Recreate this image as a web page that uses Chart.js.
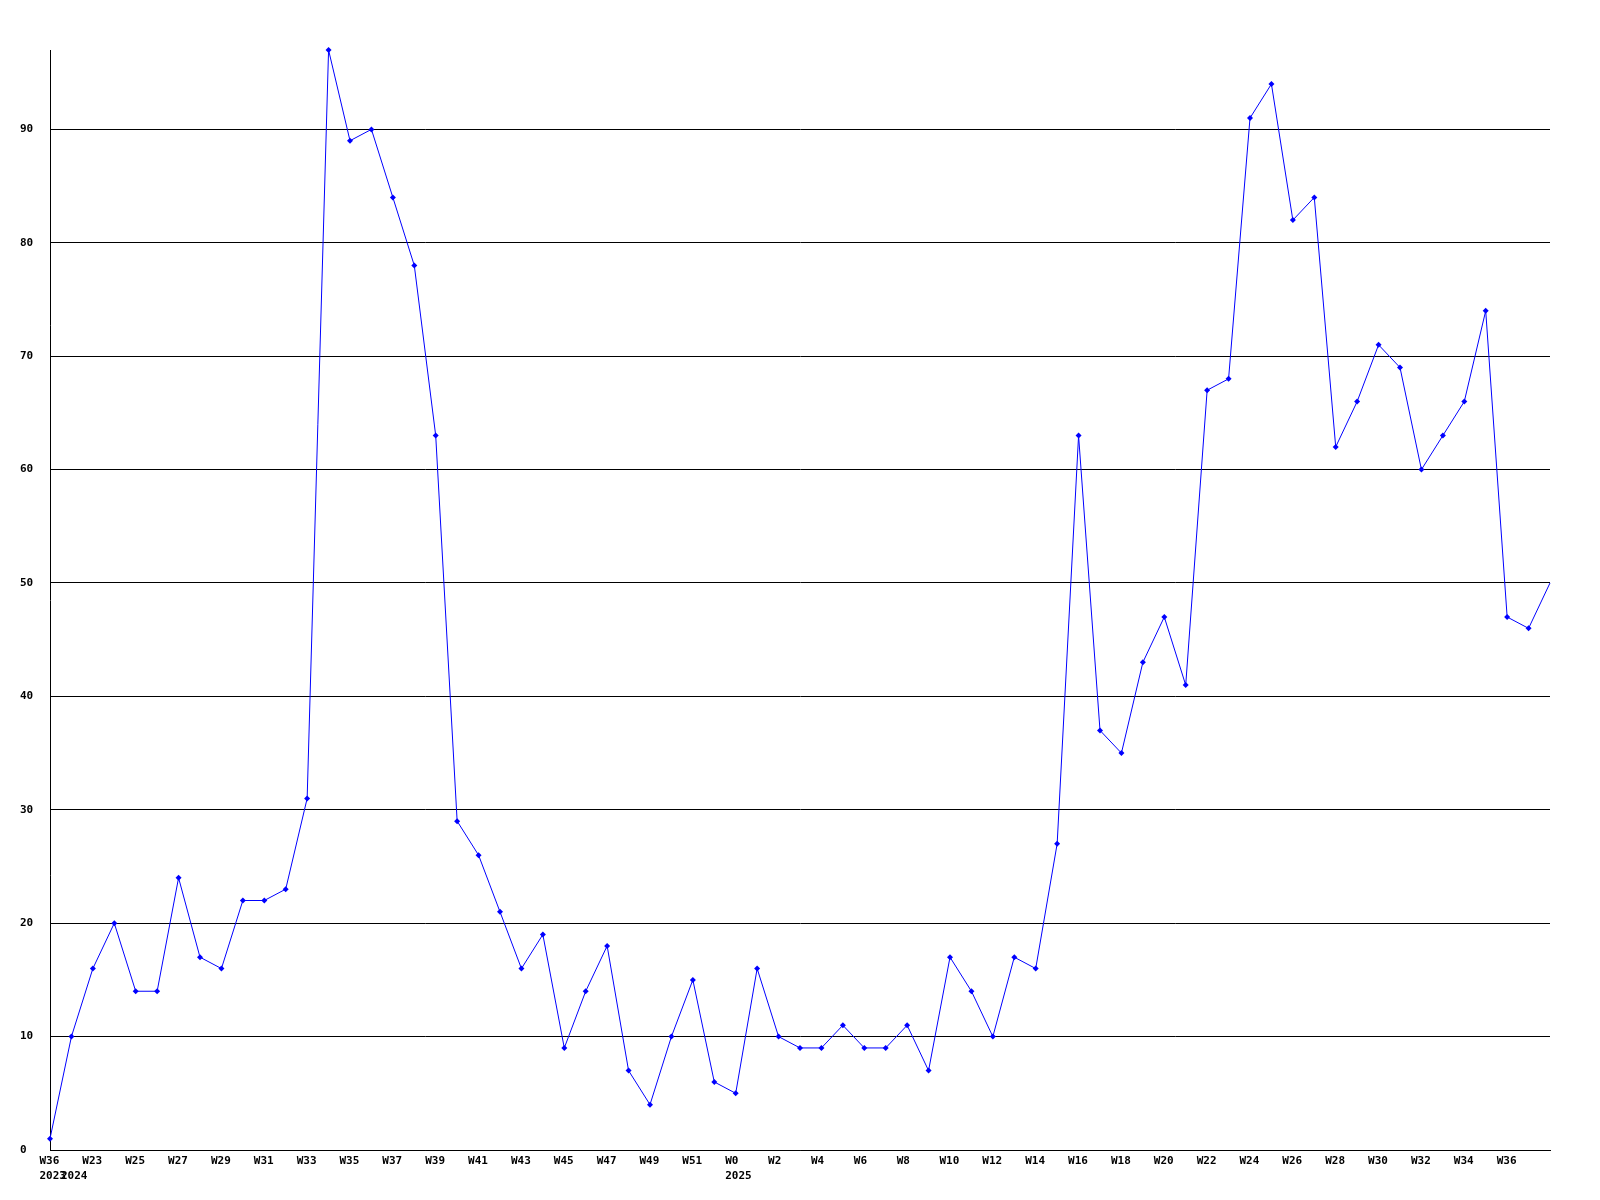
<!DOCTYPE html>
<html>
<head>
<meta charset="utf-8">
<script src="https://cdn.jsdelivr.net/npm/chart.js@4/dist/chart.umd.min.js"></script>
<style>
  html, body { margin: 0; padding: 0; background: #fff; }
  #wrap { width: 1600px; height: 1200px; }
</style>
</head>
<body>
<div id="wrap"><canvas id="weeklyChart" width="1600" height="1200"></canvas></div>
<script>
// Weeks on the x axis (2023 W36, then 2024 W22..W52, then 2025 W0..W38)
const weeks = [
    'W36',
    'W22', 'W23', 'W24', 'W25', 'W26', 'W27', 'W28', 'W29', 'W30', 'W31',
    'W32', 'W33', 'W34', 'W35', 'W36', 'W37', 'W38', 'W39', 'W40', 'W41',
    'W42', 'W43', 'W44', 'W45', 'W46', 'W47', 'W48', 'W49', 'W50', 'W51', 'W52',
    'W0', 'W1', 'W2', 'W3', 'W4', 'W5', 'W6', 'W7', 'W8', 'W9',
    'W10', 'W11', 'W12', 'W13', 'W14', 'W15', 'W16', 'W17', 'W18', 'W19',
    'W20', 'W21', 'W22', 'W23', 'W24', 'W25', 'W26', 'W27', 'W28', 'W29',
    'W30', 'W31', 'W32', 'W33', 'W34', 'W35', 'W36', 'W37', 'W38'
];

// Year captions under the first week of each year (index -> text)
const yearIndex = [0, 1, 32];
const yearText = ['2023', '2024', '2025'];

// Weekly counts (last week is still running, drawn without a marker)
const counts = [
    1,
    10, 16, 20, 14, 14, 24, 17, 16, 22, 22,
    23, 31, 97, 89, 90, 84, 78, 63, 29, 26,
    21, 16, 19, 9, 14, 18, 7, 4, 10, 15, 6,
    5, 16, 10, 9, 9, 11, 9, 9, 11, 7,
    17, 14, 10, 17, 16, 27, 63, 37, 35, 43,
    47, 41, 67, 68, 91, 94, 82, 84, 62, 66,
    71, 69, 60, 63, 66, 74, 47, 46, 50
];

const yMax = 97;
const yStep = 10;

document.addEventListener('DOMContentLoaded', function() {
    const tickFont = { family: '"DejaVu Sans Mono", monospace', size: 11, weight: 'bold', lineHeight: 1.36 };
    const lastIndex = counts.length - 1;

    const ctx = document.getElementById('weeklyChart').getContext('2d');
    new Chart(ctx, {
        type: 'line',
        data: {
            labels: weeks,
            datasets: [{
                data: counts,
                borderColor: '#0000ff',
                backgroundColor: '#0000ff',
                borderWidth: 1,
                tension: 0,
                fill: false,
                clip: false,
                pointStyle: 'rectRot',
                pointRadius: function(c) { return c.dataIndex === lastIndex ? 0 : 3; },
                pointBorderWidth: 0,
                pointHoverRadius: 3
            }]
        },
        options: {
            responsive: false,
            animation: false,
            devicePixelRatio: 1,
            layout: {
                padding: { left: 20, top: 50, right: 50, bottom: 0 }
            },
            plugins: {
                legend: { display: false },
                tooltip: { enabled: false }
            },
            scales: {
                x: {
                    offset: false,
                    grid: { display: false, drawTicks: false },
                    border: { display: true, color: '#000', width: 1 },
                    afterFit: function(scale) { scale.height = 50; },
                    ticks: {
                        autoSkip: false,
                        maxRotation: 0,
                        minRotation: 0,
                        align: 'start',
                        labelOffset: -10.5,
                        padding: 4,
                        color: '#000',
                        font: tickFont,
                        callback: function(value, index) {
                            const week = (index % 2 === 0 && index < lastIndex) ? weeks[index] : '';
                            const y = yearIndex.indexOf(index);
                            if (y >= 0) return [week, yearText[y]];
                            return week;
                        }
                    }
                },
                y: {
                    min: 0,
                    max: yMax,
                    grid: {
                        drawTicks: false,
                        lineWidth: 1,
                        color: function(c) {
                            return (c.tick && c.tick.value % yStep === 0) ? '#000' : 'rgba(0,0,0,0)';
                        }
                    },
                    border: { display: true, color: '#000', width: 1 },
                    afterFit: function(scale) { scale.width = 30; },
                    ticks: {
                        stepSize: yStep,
                        crossAlign: 'far',
                        padding: 0,
                        color: '#000',
                        font: tickFont,
                        callback: function(value) {
                            return value % yStep === 0 ? String(value) : '';
                        }
                    }
                }
            }
        }
    });
});
</script>
</body>
</html>
